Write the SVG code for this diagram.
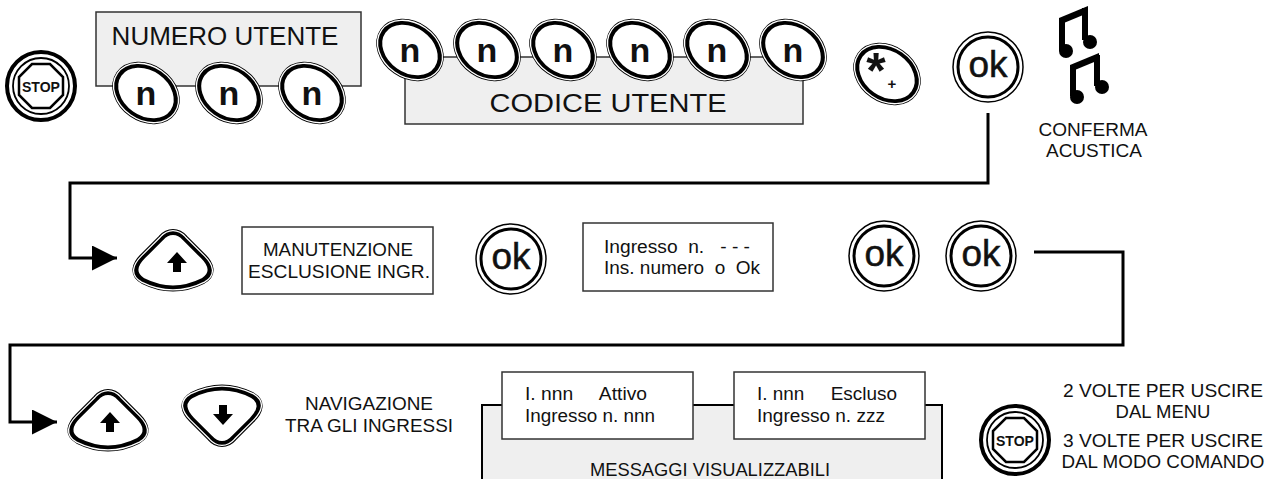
<svg xmlns="http://www.w3.org/2000/svg" width="1279" height="479" viewBox="0 0 1279 479">
<style>
text{font-family:"Liberation Sans",Arial,sans-serif;fill:#111}
.panel{fill:#efefef;stroke:#333;stroke-width:1.5}
.lcd{fill:#fff;stroke:#333;stroke-width:1.5}
.thick{fill:#fff;stroke:#000;stroke-width:6}
.thin{fill:none;stroke:#fff;stroke-width:1.2}
.n{font-size:34px;font-weight:bold;text-anchor:middle}
.ok{font-size:37px;text-anchor:middle;stroke:#111;stroke-width:0.5}
.lbl{font-size:18.5px;text-anchor:middle}
.lcdt{font-size:18px}
.big{font-size:26px;text-anchor:middle}
.wire{fill:none;stroke:#000;stroke-width:3}
.ring{fill:none;stroke:#000}
.note{fill:#000}
</style>
<defs>
<ellipse id="nE" cx="0" cy="0" rx="33" ry="25.5" transform="rotate(35)"/>
<path id="upS" d="M -30,22 C -42,15 -38,5 -30,-3 L -12,-21 C -5,-29 5,-29 12,-21 L 30,-3 C 38,5 42,15 30,22 C 10,32 -10,32 -30,22 Z"/>
<path id="upA" d="M 0,-10 L -10,1 L -4,1 L -4,10 L 4,10 L 4,1 L 10,1 Z"/>
<polygon id="oct" points="-9,-22 9,-22 22,-9 22,9 9,22 -9,22 -22,9 -22,-9"/>
<marker id="arr" markerUnits="userSpaceOnUse" markerWidth="26" markerHeight="26" refX="25" refY="12.5" orient="auto">
<path d="M0,0 L25,12.5 L0,25 Z" fill="#000"/>
</marker>
</defs>

<g id="connectors">
<path class="wire" d="M988,113 V183 H70 V258 H117" marker-end="url(#arr)"/>
<path class="wire" d="M1034,252 H1123 V345 H10 V422 H57" marker-end="url(#arr)"/>
</g>

<g id="stop1" transform="translate(41,86)">
<circle class="ring" r="34" stroke-width="4"/>
<circle class="ring" r="34.6" stroke="#fff" stroke-width="1"/>
<circle class="ring" r="28" stroke-width="1.8"/>
<use href="#oct" fill="#fff" stroke="#000" stroke-width="2.5"/>
<text x="0" y="5.5" font-size="15" font-weight="bold" text-anchor="middle" textLength="38" lengthAdjust="spacingAndGlyphs">STOP</text>
</g>

<g id="numero-utente">
<rect class="panel" x="96" y="12" width="265" height="74"/>
<text class="big" x="225" y="45">NUMERO UTENTE</text>
<g transform="translate(146,93)"><use href="#nE" class="thick"/><use href="#nE" class="thin" transform="scale(1.055)"/><text class="n" y="12">n</text></g>
<g transform="translate(229,93)"><use href="#nE" class="thick"/><use href="#nE" class="thin" transform="scale(1.055)"/><text class="n" y="12">n</text></g>
<g transform="translate(312,93)"><use href="#nE" class="thick"/><use href="#nE" class="thin" transform="scale(1.055)"/><text class="n" y="12">n</text></g>
</g>

<g id="codice-utente">
<rect class="panel" x="405" y="57" width="398" height="67"/>
<text class="big" x="608" y="112" textLength="237" lengthAdjust="spacingAndGlyphs">CODICE UTENTE</text>
<g transform="translate(410,50)"><use href="#nE" class="thick"/><use href="#nE" class="thin" transform="scale(1.055)"/><text class="n" y="12">n</text></g>
<g transform="translate(487,50)"><use href="#nE" class="thick"/><use href="#nE" class="thin" transform="scale(1.055)"/><text class="n" y="12">n</text></g>
<g transform="translate(563,50)"><use href="#nE" class="thick"/><use href="#nE" class="thin" transform="scale(1.055)"/><text class="n" y="12">n</text></g>
<g transform="translate(640,50)"><use href="#nE" class="thick"/><use href="#nE" class="thin" transform="scale(1.055)"/><text class="n" y="12">n</text></g>
<g transform="translate(717,50)"><use href="#nE" class="thick"/><use href="#nE" class="thin" transform="scale(1.055)"/><text class="n" y="12">n</text></g>
<g transform="translate(793,50)"><use href="#nE" class="thick"/><use href="#nE" class="thin" transform="scale(1.055)"/><text class="n" y="12">n</text></g>
</g>

<g id="star-key" transform="translate(887,74)">
<use href="#nE" class="thick"/><use href="#nE" class="thin" transform="scale(1.055)"/>
<text x="-11" y="14" font-size="50" font-weight="bold" text-anchor="middle">*</text>
<text x="5" y="15" font-size="15" font-weight="bold" text-anchor="middle">+</text>
</g>

<g id="ok1" transform="translate(988,67)">
<circle class="ring" r="35" stroke-width="1.5"/>
<circle class="ring" r="30" stroke-width="3"/>
<text class="ok" y="10">ok</text>
</g>

<g id="conferma">
<path class="note" d="M1059,18 L1088,6 L1088,13 L1059,25 Z"/>
<rect class="note" x="1059" y="20" width="6" height="31"/>
<rect class="note" x="1082" y="8" width="6" height="32"/>
<circle class="note" cx="1066" cy="51" r="7"/>
<circle class="note" cx="1090" cy="42" r="7"/>
<path class="note" d="M1070,65 L1099,53 L1099,60 L1070,72 Z"/>
<rect class="note" x="1070" y="67" width="6" height="29"/>
<rect class="note" x="1094" y="55" width="6" height="31"/>
<circle class="note" cx="1077" cy="97" r="7"/>
<circle class="note" cx="1102" cy="87" r="7"/>
<text class="lbl" x="1093" y="136" font-size="17" textLength="109" lengthAdjust="spacingAndGlyphs">CONFERMA</text>
<text class="lbl" x="1094" y="157" font-size="17" textLength="96" lengthAdjust="spacingAndGlyphs">ACUSTICA</text>
</g>

<g id="up1" transform="translate(173,259)">
<use href="#upS" class="thick"/><use href="#upS" class="thin" transform="scale(1.05)"/>
<use href="#upA" transform="translate(4,3)" fill="#000"/>
</g>

<g id="manutenzione">
<rect class="lcd" x="242" y="227" width="191" height="67"/>
<text class="lbl" x="338" y="256" textLength="150" lengthAdjust="spacingAndGlyphs">MANUTENZIONE</text>
<text class="lbl" x="339" y="278" textLength="182" lengthAdjust="spacingAndGlyphs">ESCLUSIONE INGR.</text>
</g>

<g id="ok2" transform="translate(511,259)">
<circle class="ring" r="35" stroke-width="1.5"/>
<circle class="ring" r="30" stroke-width="3"/>
<text class="ok" y="10">ok</text>
</g>

<g id="ingresso">
<rect class="lcd" x="583" y="223" width="190" height="68"/>
<text class="lcdt" x="604" y="253" xml:space="preserve" textLength="146" lengthAdjust="spacingAndGlyphs">Ingresso  n.   - - -</text>
<text class="lcdt" x="604" y="274" xml:space="preserve" textLength="156" lengthAdjust="spacingAndGlyphs">Ins. numero  o  Ok</text>
</g>

<g id="ok3" transform="translate(884,256)">
<circle class="ring" r="35" stroke-width="1.5"/>
<circle class="ring" r="30" stroke-width="3"/>
<text class="ok" y="10">ok</text>
</g>

<g id="ok4" transform="translate(981,256)">
<circle class="ring" r="35" stroke-width="1.5"/>
<circle class="ring" r="30" stroke-width="3"/>
<text class="ok" y="10">ok</text>
</g>

<g id="up2" transform="translate(108,419)">
<use href="#upS" class="thick"/><use href="#upS" class="thin" transform="scale(1.05)"/>
<use href="#upA" transform="translate(2,3)" fill="#000"/>
</g>

<g id="down" transform="translate(222,417)">
<use href="#upS" class="thick" transform="scale(1,-1)"/><use href="#upS" class="thin" transform="scale(1.05,-1.05)"/>
<use href="#upA" transform="translate(1,-2) scale(1,-1)" fill="#000"/>
</g>

<g id="navigazione">
<text class="lbl" x="369" y="410" textLength="128" lengthAdjust="spacingAndGlyphs">NAVIGAZIONE</text>
<text class="lbl" x="369" y="432" textLength="168" lengthAdjust="spacingAndGlyphs">TRA GLI INGRESSI</text>
</g>

<g id="messaggi">
<rect x="482" y="405" width="460" height="90" fill="#efefef" stroke="#000" stroke-width="2"/>
<text class="lbl" x="710" y="476" font-size="18" textLength="240" lengthAdjust="spacingAndGlyphs">MESSAGGI VISUALIZZABILI</text>
<rect class="lcd" x="502" y="372" width="191" height="67"/>
<text class="lcdt" x="525" y="400" xml:space="preserve" textLength="122" lengthAdjust="spacingAndGlyphs">I. nnn     Attivo</text>
<text class="lcdt" x="525" y="422" textLength="130" lengthAdjust="spacingAndGlyphs">Ingresso n. nnn</text>
<rect class="lcd" x="734" y="372" width="191" height="67"/>
<text class="lcdt" x="757" y="400" xml:space="preserve" textLength="140" lengthAdjust="spacingAndGlyphs">I. nnn     Escluso</text>
<text class="lcdt" x="757" y="422" textLength="128" lengthAdjust="spacingAndGlyphs">Ingresso n. zzz</text>
</g>

<g id="stop2" transform="translate(1015,440)">
<circle class="ring" r="34" stroke-width="4"/>
<circle class="ring" r="34.6" stroke="#fff" stroke-width="1"/>
<circle class="ring" r="28" stroke-width="1.8"/>
<use href="#oct" fill="#fff" stroke="#000" stroke-width="2.5"/>
<text x="0" y="5.5" font-size="15" font-weight="bold" text-anchor="middle" textLength="38" lengthAdjust="spacingAndGlyphs">STOP</text>
</g>

<g id="uscita">
<text class="lbl" x="1163" y="397" textLength="200" lengthAdjust="spacingAndGlyphs">2 VOLTE PER USCIRE</text>
<text class="lbl" x="1163" y="418">DAL MENU</text>
<text class="lbl" x="1163" y="447" textLength="200" lengthAdjust="spacingAndGlyphs">3 VOLTE PER USCIRE</text>
<text class="lbl" x="1163" y="468" textLength="203" lengthAdjust="spacingAndGlyphs">DAL MODO COMANDO</text>
</g>
</svg>
